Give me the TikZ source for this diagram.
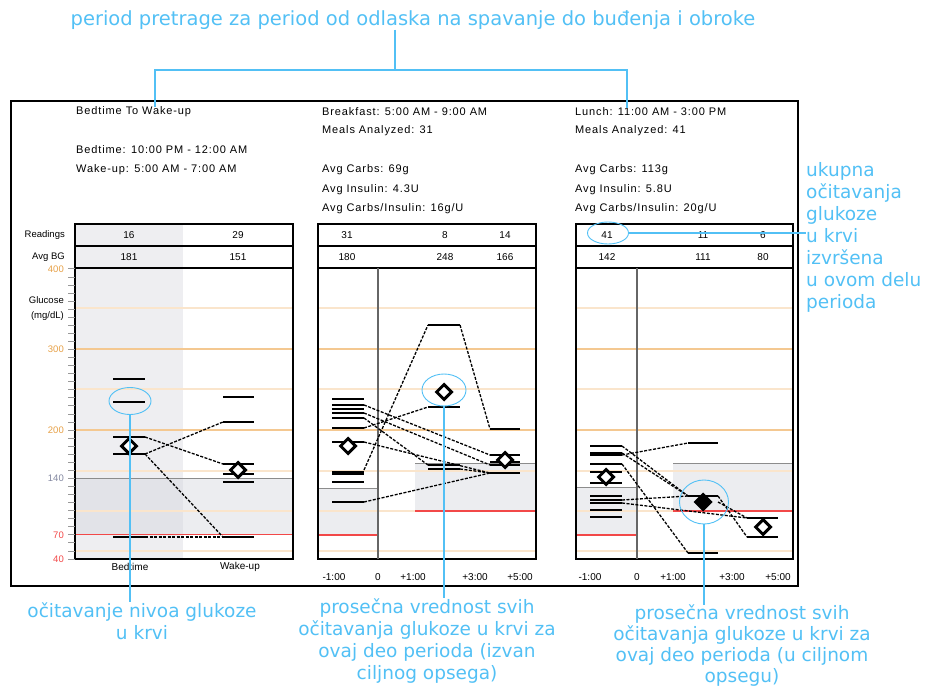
\documentclass[tikz,border=0pt]{standalone}
\usepackage{fontspec}
\setmainfont{Liberation Sans}
\newfontfamily\chartfont[LetterSpace=8]{Liberation Sans}
\newfontfamily\notefont{DejaVu Sans}
\usepackage{tikz}
\usetikzlibrary{positioning,shapes.geometric}

\definecolor{noteblue}{RGB}{82,192,245}
\definecolor{gridlight}{RGB}{250,229,204}
\definecolor{gridmid}{RGB}{244,200,145}
\definecolor{axisorange}{RGB}{230,160,70}
\definecolor{bandgray}{RGB}{236,237,240}
\definecolor{bandgraydark}{RGB}{226,227,232}
\definecolor{nightgray}{RGB}{238,238,241}
\definecolor{lowred}{RGB}{242,72,72}
\definecolor{limitgray}{RGB}{140,140,140}
\definecolor{axislabel}{RGB}{130,135,160}

\newcommand\gy[1]{559-(#1-40)*0.806}

\tikzset{
  note/.style={font=\notefont\fontsize{18.5}{22}\selectfont, text=noteblue, align=center, inner sep=0pt},
  noteline/.style={draw=noteblue, line width=1.3pt},
  ring/.style={draw=noteblue, ellipse, line width=0.9pt, inner sep=0pt},
  info/.style={font=\chartfont\fontsize{11}{12}\selectfont, anchor=west, inner sep=0pt},
  cell/.style={font=\fontsize{10}{11}\selectfont, inner sep=0pt},
  ylab/.style={font=\fontsize{9.5}{10}\selectfont, anchor=east, inner sep=0pt},
  bar/.style={line width=2.4pt},
  thinbar/.style={line width=1.2pt},
  trend/.style={line width=1.3pt, dash pattern=on 3pt off 1.5pt},
  avg/.style={diamond, draw, line width=3pt, fill=white, minimum size=16pt, inner sep=0pt},
  avgin/.style={avg, fill=black},
  frame/.style={line width=1.3pt},
}

\begin{document}
\begin{tikzpicture}[x=1pt,y=-1pt]
\useasboundingbox (0,0) rectangle (930,690);

\fill[nightgray] (75,224) rectangle (183,559);
\fill[bandgray] (183,{\gy{140}}) rectangle (293,{\gy{70}});
\fill[bandgraydark] (75,{\gy{140}}) rectangle (183,{\gy{70}});
\fill[bandgray] (318,488) rectangle (378,535);
\fill[bandgray] (415,463) rectangle (536,511);
\fill[bandgray] (576,487) rectangle (637,535);
\fill[bandgray] (673,463) rectangle (793,511);

\foreach \l/\r in {75/293,318/536,576/793}
  \foreach \y/\c in {551/gridlight,511/gridlight,471/gridlight,430/gridmid,389/gridlight,349/gridmid,308/gridlight}
    \draw[\c, line width=1.5pt] (\l,\y) -- (\r,\y);

\draw[limitgray, line width=1pt] (75,{\gy{140}}) -- (293,{\gy{140}});
\draw[lowred, line width=1.2pt] (75,{\gy{70}}) -- (293,{\gy{70}});
\foreach \l/\r/\t/\b in {318/378/488/535,415/536/463/511,576/637/487/535,673/793/463/511} {
  \draw[limitgray, line width=1pt] (\l,\t) -- (\r,\t);
  \draw[lowred, line width=1.2pt] (\l,\b) -- (\r,\b);
}

\draw[line width=1.6pt] (11,101) rectangle (798,586);
\foreach \l/\r in {75/293,318/536,576/793} {
  \draw[frame] (\l,224) rectangle (\r,246);
  \draw[frame] (\l,246) rectangle (\r,268);
  \draw[frame] (\l,268) rectangle (\r,559);
}
\draw[black!60, line width=1.2pt] (378,268) -- (378,559);
\draw[black!60, line width=1.2pt] (637,268) -- (637,559);

\foreach \v in {40,50,...,400}
  \draw[black!40, line width=0.8pt] (68,{\gy{\v}}) -- (75,{\gy{\v}});
\node[ylab, text=axisorange] at (64,{\gy{400}}) {400};
\node[ylab, text=axisorange] at (64,{\gy{300}}) {300};
\node[ylab, text=axisorange] at (64,{\gy{200}}) {200};
\node[ylab, text=axislabel] at (64,{\gy{140}}) {140};
\node[ylab, text=lowred] at (64,{\gy{70}}) {70};
\node[ylab, text=lowred] at (64,{\gy{40}}) {40};
\node[ylab] (glucose) at (64,300) {Glucose};
\node[ylab] (units) at (64,316) {(mg/dL)};
\node[ylab] (readings) at (65,235) {Readings};
\node[ylab] (avgbg) at (65,257) {Avg BG};

\node[info] (nightTitle) at (76,112) {Bedtime To Wake-up};
\node[info] (nightBed) at (76,150) {Bedtime: 10:00 PM - 12:00 AM};
\node[info] (nightWake) at (76,170) {Wake-up: 5:00 AM - 7:00 AM};
\node[info] (bfTitle) at (322,112) {Breakfast: 5:00 AM - 9:00 AM};
\node[info] (bfMeals) at (322,131) {Meals Analyzed: 31};
\node[info] (bfCarbs) at (322,170) {Avg Carbs: 69g};
\node[info] (bfInsulin) at (322,190) {Avg Insulin: 4.3U};
\node[info] (bfRatio) at (322,209) {Avg Carbs/Insulin: 16g/U};
\node[info] (luTitle) at (575,112) {Lunch: 11:00 AM - 3:00 PM};
\node[info] (luMeals) at (575,131) {Meals Analyzed: 41};
\node[info] (luCarbs) at (575,170) {Avg Carbs: 113g};
\node[info] (luInsulin) at (575,190) {Avg Insulin: 5.8U};
\node[info] (luRatio) at (575,209) {Avg Carbs/Insulin: 20g/U};

\node[cell] (nightReadA) at (129,235) {16};
\node[cell] (nightReadB) at (238,235) {29};
\node[cell] (nightAvgA) at (129,257) {181};
\node[cell] (nightAvgB) at (238,257) {151};
\node[cell] (bfReadA) at (347,235) {31};
\node[cell] (bfReadB) at (445,235) {8};
\node[cell] (bfReadC) at (505,235) {14};
\node[cell] (bfAvgA) at (347,257) {180};
\node[cell] (bfAvgB) at (445,257) {248};
\node[cell] (bfAvgC) at (505,257) {166};
\node[cell] (luReadA) at (607,235) {41};
\node[cell] (luReadB) at (703,235) {11};
\node[cell] (luReadC) at (763,235) {6};
\node[cell] (luAvgA) at (607,257) {142};
\node[cell] (luAvgB) at (703,257) {111};
\node[cell] (luAvgC) at (763,257) {80};

\node[cell] (bedLabel) at (130,567) {Bedtime};
\node[cell] (wakeLabel) at (240,567) {Wake-up};
\foreach \x/\t in {334/-1:00,378/0,413/+1:00,475/+3:00,520/+5:00,590/-1:00,637/0,673/+1:00,732/+3:00,778/+5:00}
  \node[cell] at (\x,577) {\t};

\foreach \y in {379,402,437,454,537} \draw[bar] (113,\y) -- (145,\y);
\foreach \y in {397,464,474,482,537} \draw[bar] (223,\y) -- (254,\y);
\draw[thinbar] (223,422) -- (254,422);
\draw[trend] (145,437) -- (223,464);
\draw[trend] (145,454) -- (223,422);
\draw[trend] (145,454) -- (223,537);
\draw[trend] (145,537) -- (223,537);
\node[avg] (bedAvg) at (129,446) {};
\node[avg] (wakeAvg) at (238,470) {};

\foreach \y in {405,428,472} \draw[bar] (332,\y) -- (364,\y);
\foreach \y in {399,409,413,418,474,482,502} \draw[thinbar] (332,\y) -- (364,\y);
\foreach \y in {325,407} \draw[bar] (428,\y) -- (460,\y);
\foreach \y in {465,469} \draw[thinbar] (428,\y) -- (460,\y);
\foreach \y in {429,465,473} \draw[bar] (490,\y) -- (520,\y);
\foreach \y in {455} \draw[thinbar] (490,\y) -- (520,\y);
\draw[trend] (364,470) -- (428,325);
\draw[trend] (460,325) -- (490,429);
\draw[trend] (364,405) -- (490,455);
\draw[trend] (364,413) -- (490,465);
\draw[trend] (364,418) -- (428,465);
\draw[trend] (364,428) -- (428,407);
\draw[trend] (364,442) -- (490,473);
\draw[trend] (364,502) -- (490,473);
\draw[trend] (460,469) -- (490,473);
\draw[thinbar] (332,442) -- (364,442);
\draw[thinbar] (490,462) -- (520,462);
\node[avg] (bfAvgPre) at (348,446) {};
\node[avg] (bfAvgMid) at (444,392) {};
\node[avg] (bfAvgLate) at (505,460) {};

\foreach \y in {453,500} \draw[bar] (590,\y) -- (622,\y);
\foreach \y in {446,455,464,472,483,496,503,510,517} \draw[thinbar] (590,\y) -- (622,\y);
\foreach \y in {553} \draw[bar] (688,\y) -- (718,\y);
\foreach \y in {443,496} \draw[thinbar] (688,\y) -- (718,\y);
\foreach \y in {518,537} \draw[thinbar] (747,\y) -- (778,\y);
\draw[trend] (622,446) -- (688,496);
\draw[trend] (622,453) -- (688,496);
\draw[trend] (622,455) -- (688,443);
\draw[trend] (622,464) -- (688,553);
\draw[trend] (622,500) -- (688,496);
\draw[trend] (622,503) -- (747,518);
\draw[trend] (718,496) -- (747,537);
\draw[trend] (718,502) -- (747,518);
\node[avg] (luAvgPre) at (606,477) {};
\node[avgin] (luAvgMid) at (703,502) {};
\node[avg] (luAvgLate) at (763,527) {};

\node[note, font=\notefont\fontsize{19.5}{22}\selectfont] (periodNote) at (413,20) {period pretrage za period od odlaska na spavanje do buđenja i obroke};
\coordinate (bracketL) at (155,70);
\coordinate (bracketR) at (627,70);
\draw[noteline] (periodNote.south -| 395,0) -- (395,70);
\draw[noteline] (bracketL |- nightTitle.north) -- (bracketL) -- (bracketR) -- (bracketR |- luTitle.north);

\node[ring, minimum width=42pt, minimum height=27pt] (readRing) at (130,401) {};
\node[note] (readNote) at (142,621) {očitavanje nivoa glukoze\\u krvi};
\draw[noteline] (readRing.south) -- (readRing.south |- readNote.north);

\node[ring, minimum width=44pt, minimum height=32pt] (outRing) at (444,390) {};
\node[note] (outNote) at (427,641) {prosečna vrednost svih\\očitavanja glukoze u krvi za\\ovaj deo perioda (izvan\\ciljnog opsega)};
\draw[noteline] (outRing.south) -- (outRing.south |- outNote.north);

\node[ring, minimum width=49pt, minimum height=44pt] (inRing) at (704,502) {};
\node[note, font=\notefont\fontsize{18.5}{21}\selectfont] (inNote) at (742,646) {prosečna vrednost svih\\očitavanja glukoze u krvi za\\ovaj deo perioda (u ciljnom\\opsegu)};
\draw[noteline] (inRing.south) -- (inRing.south |- inNote.north);

\node[ring, minimum width=41pt, minimum height=22pt] (countRing) at (608,233) {};
\node[note, align=left, anchor=west] (countNote) at (806,237) {ukupna\\očitavanja\\glukoze\\u krvi\\izvršena\\u ovom delu\\perioda};
\draw[noteline] (countRing.east) -- (countRing.east -| countNote.west);
\end{tikzpicture}
\end{document}
